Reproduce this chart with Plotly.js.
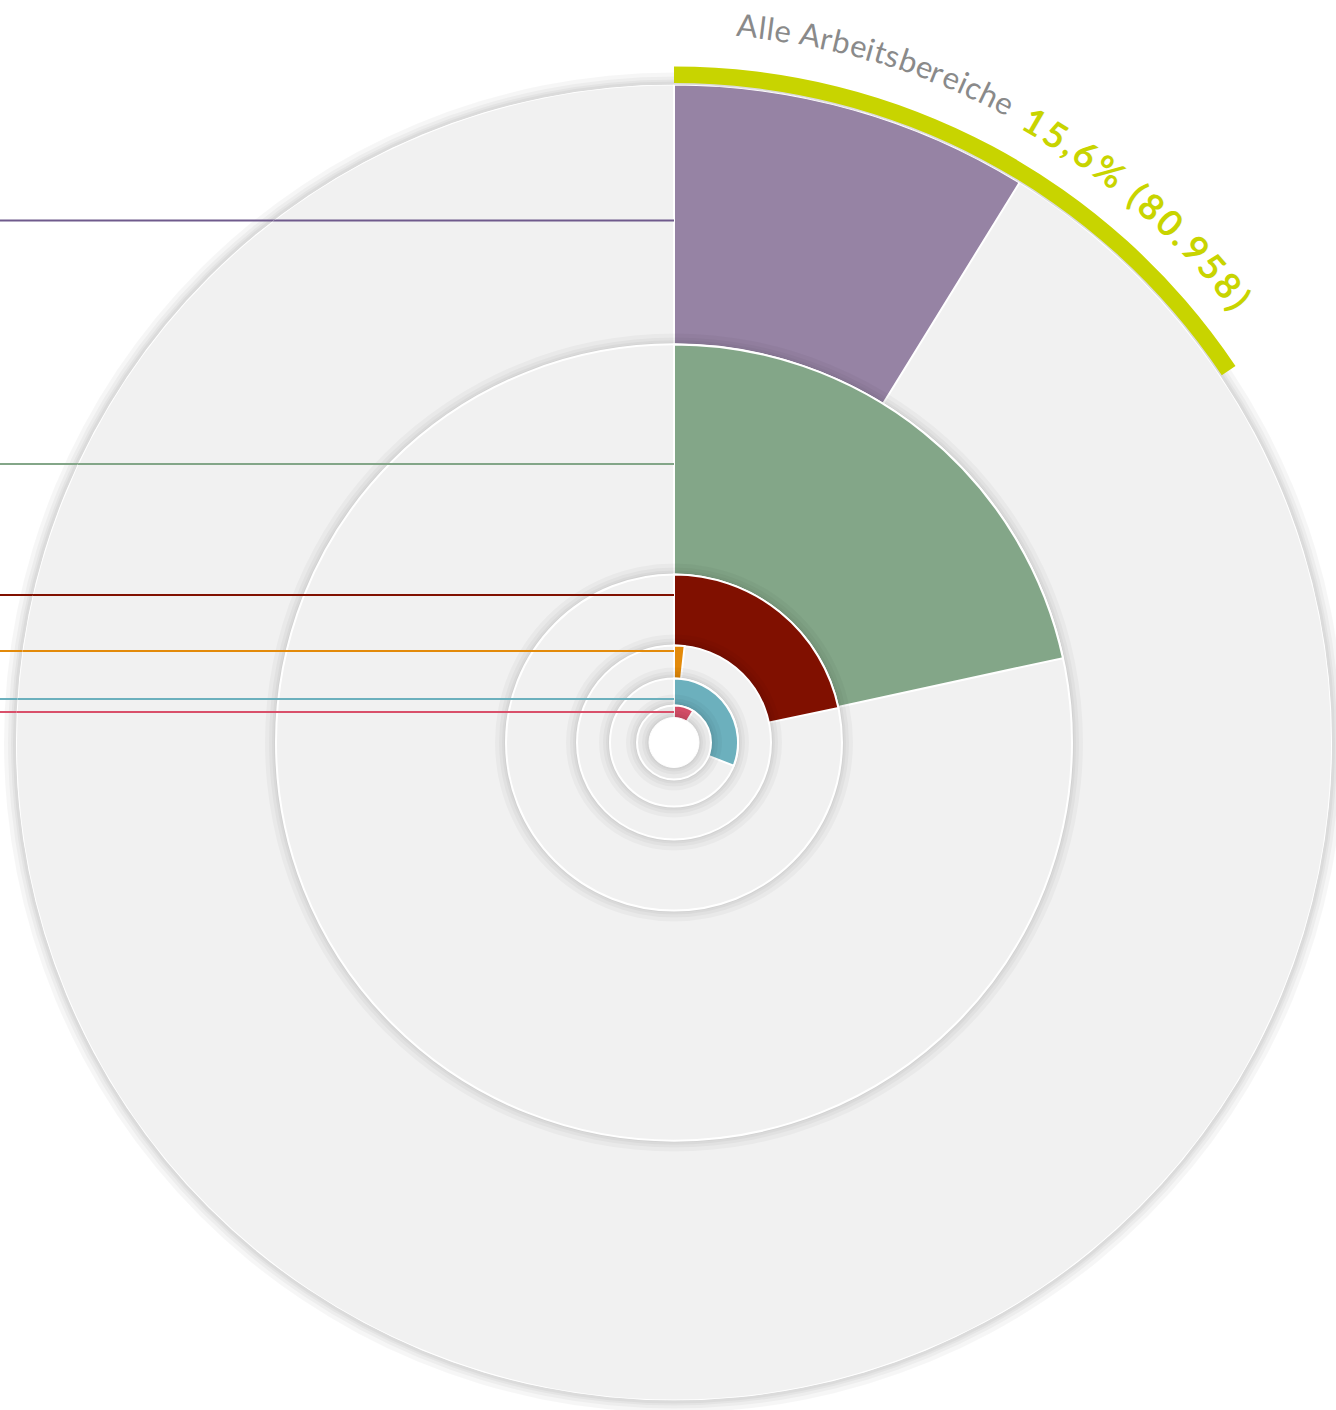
<!DOCTYPE html>
<html>
<head>
<meta charset="utf-8">
<script src="https://cdn.plot.ly/plotly-3.0.1.min.js"></script>
<style>
html,body{margin:0;padding:0;background:#ffffff;}
#chart{width:1336px;height:1410px;}
</style>
</head>
<body>
<div id="chart"></div>
<script>
// ---------------- DATA ----------------
// Work areas, from the largest ring (outside) to the smallest (inside).
// Their names sit outside the visible crop, so generic names are used.
const categories = ['Bereich 1', 'Bereich 2', 'Bereich 3', 'Bereich 4', 'Bereich 5', 'Bereich 6'];
// Ring size (radius, chart units)
const ringSize = [658, 398, 168, 97, 64, 37];
// Share of each area shown by the coloured wedge (%)
const sharePct = [8.8, 21.6, 21.7, 1.75, 30.9, 8.7];
// Overall value
const totalLabel = 'Alle Arbeitsbereiche';
const totalPct = 15.6;
const totalCount = 80958;

// ---------------- STYLE ----------------
const wedgeColors = ['#9683a4', '#83a688', '#801000', '#e38a0a', '#6cb0bd', '#d9506a'];
const lineColors  = ['#6f5a8c', '#83a688', '#801000', '#e38a0a', '#6cb0bd', '#d9506a'];
const leaderR = [522, 278.5, 147.5, 91.5, 43.5, 30.5];   // where each leader meets the axis
const holeSize = 25;
const ringFill = '#f1f1f1';
const accent = '#c8d400';
const shadowSteps = [12, 8, 5, 3];

const W = 1336, H = 1410, cx = 674, cy = 742.5;
const R0 = ringSize[0];
const RA = 680;               // radial extent of the accent-arc subplot
const SECT0 = 33;             // accent subplot sector start (standard degrees)

const traces = [];
function bar(base, len, theta, width, color, lw, sub) {
  return {
    type: 'barpolar', subplot: sub || 'polar',
    base: [base], r: [len], theta: [theta], width: [width],
    marker: { color: color, line: { color: '#ffffff', width: lw } },
    hoverinfo: 'skip', showlegend: false
  };
}
function shadow(r) {
  shadowSteps.forEach(t => traces.push(bar(r - 1, t, 180, 360, 'rgba(0,0,0,0.03)', 0)));
}

// leader lines (outer part, on the cartesian layer beneath the rings)
leaderR.forEach((d, i) => {
  traces.push({
    type: 'scatter', mode: 'lines', x: [-cx - 10, 0], y: [d, d],
    line: { color: lineColors[i], width: 2 }, hoverinfo: 'skip', showlegend: false
  });
});

ringSize.forEach((r, i) => {
  if (i > 0) shadow(r);
  traces.push(bar(0, r, 180, 360, ringFill, 2));
  const ang = sharePct[i] * 3.6;
  const t = bar(0, r, ang / 2, ang, wedgeColors[i], 2);
  t.name = categories[i];
  traces.push(t);
});
// centre hole
shadow(holeSize);
traces.push(bar(0, holeSize, 180, 360, '#ffffff', 1));

// leader lines (inner part, on top of the rings)
leaderR.forEach((d, i) => {
  const xl = -cx - 6;
  const rr = Math.hypot(xl, d);
  const th = Math.atan2(xl, d) * 180 / Math.PI;
  traces.push({
    type: 'scatterpolar', mode: 'lines', r: [d, rr], theta: [0, th],
    line: { color: lineColors[i], width: 2 },
    hoverinfo: 'skip', showlegend: false
  });
});

// overall arc outside the largest ring
traces.push(bar(R0 + 1.5, 16.5, totalPct * 1.8, totalPct * 3.6, accent, 0, 'polar2'));

// soft shadow around the largest ring (cartesian layer, below the rings)
const shapes = shadowSteps.map(t => ({
  type: 'circle', xref: 'x', yref: 'y', layer: 'below',
  x0: -(R0 + t), x1: R0 + t, y0: -(R0 + t), y1: R0 + t,
  fillcolor: 'rgba(0,0,0,0.035)', line: { width: 0 }
}));

// ---------------- curved text ----------------
const annotations = [];
const ctx = document.createElement('canvas').getContext('2d');
function arcText(str, o) {
  ctx.font = `${o.weight} ${o.size}px ${o.family}`;
  const chars = [...str];
  const adv = chars.map(c => ctx.measureText(c).width);
  const natural = adv.reduce((a, b) => a + b, 0);
  const arcLen = (o.a1 - o.a0) * Math.PI / 180 * o.rBase;
  const gap = (arcLen - natural) / (chars.length - 1);
  let s = 0;
  chars.forEach((c, k) => {
    const mid = s + adv[k] / 2;
    s += adv[k] + gap;
    if (c === ' ') return;
    const ang = o.a0 * Math.PI / 180 + mid / o.rBase;
    const rc = o.rBase + o.size * 0.36;
    const px = cx + rc * Math.sin(ang), py = cy - rc * Math.cos(ang);
    annotations.push({
      xref: 'paper', yref: 'paper', x: px / W, y: 1 - py / H,
      xanchor: 'center', yanchor: 'middle', showarrow: false,
      text: c, textangle: ang * 180 / Math.PI,
      font: { family: o.family, size: o.size, color: o.color, weight: o.weight }
    });
  });
}
const pctText = totalPct.toFixed(1).replace('.', ',') + '% (' +
  String(totalCount).replace(/\B(?=(\d{3})+(?!\d))/g, '.') + ')';
arcText(totalLabel, { family: 'Lato', size: 31, weight: 400, color: '#8a8a8a', a0: 5.0, a1: 28.0, rBase: 710 });
arcText(pctText, { family: 'Lato', size: 36, weight: 700, color: accent, a0: 29.3, a1: 52.4, rBase: 706 });

const hidden = { visible: false, showgrid: false };
const layout = {
  width: W, height: H,
  margin: { l: 0, r: 0, t: 0, b: 0, pad: 0 },
  paper_bgcolor: '#ffffff',
  plot_bgcolor: 'rgba(0,0,0,0)',
  showlegend: false,
  xaxis: { visible: false, range: [-cx, W - cx], domain: [0, 1], fixedrange: true },
  yaxis: { visible: false, range: [-(H - cy), cy], domain: [0, 1], fixedrange: true },
  polar: {
    domain: { x: [(cx - R0) / W, (cx + R0) / W], y: [(H - cy - R0) / H, (H - cy + R0) / H] },
    bgcolor: 'rgba(0,0,0,0)',
    barmode: 'overlay',
    hole: 0,
    radialaxis: Object.assign({ range: [0, R0], autorange: false }, hidden),
    angularaxis: Object.assign({ rotation: 90, direction: 'clockwise' }, hidden)
  },
  polar2: {
    domain: {
      x: [cx / W, (cx + RA * Math.cos(SECT0 * Math.PI / 180)) / W],
      y: [(H - cy) / H, (H - cy + RA) / H]
    },
    sector: [SECT0, 90],
    bgcolor: 'rgba(0,0,0,0)',
    barmode: 'overlay',
    hole: 0,
    radialaxis: Object.assign({ range: [0, RA], autorange: false }, hidden),
    angularaxis: Object.assign({ rotation: 90, direction: 'clockwise' }, hidden)
  },
  shapes: shapes,
  annotations: annotations
};

Plotly.newPlot('chart', traces, layout, { staticPlot: true, displayModeBar: false });
</script>
</body>
</html>
